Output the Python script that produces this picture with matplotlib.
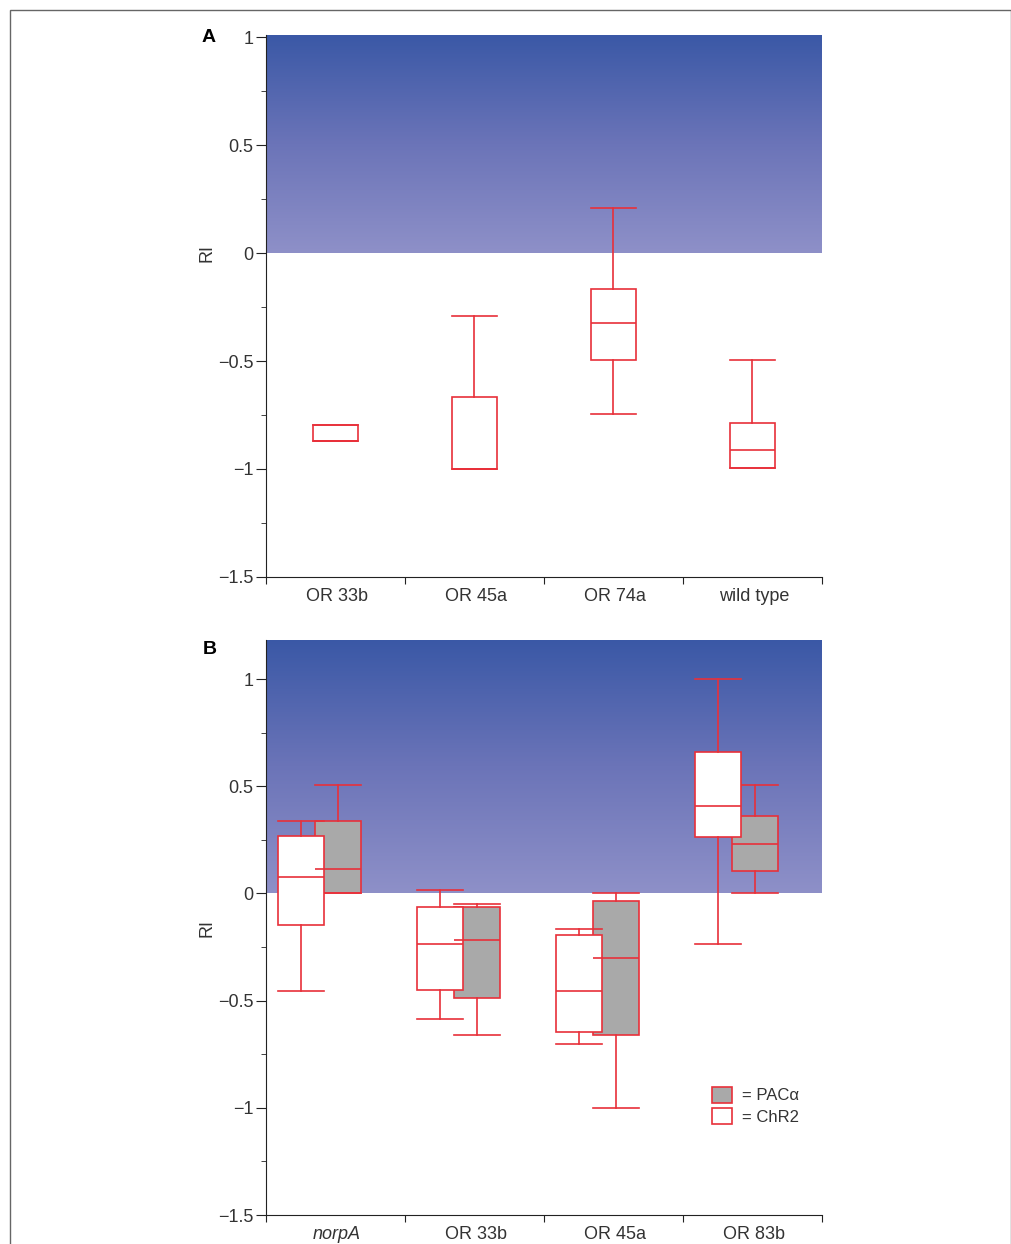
import numpy as np
import matplotlib.pyplot as plt
from matplotlib.patches import Patch, Rectangle
from matplotlib.ticker import MultipleLocator

plt.rcParams['font.family'] = ['Liberation Sans', 'DejaVu Sans']

# panel A: one box per genotype (q1, median, q3, whisker low, whisker high)
cats_a = ['OR 33b', 'OR 45a', 'OR 74a', 'wild type']
a_whislo = [-0.87, -1.0, -0.745, -0.995]
a_q1 = [-0.87, -1.0, -0.495, -0.995]
a_med = [-0.87, -1.0, -0.324, -0.912]
a_q3 = [-0.796, -0.667, -0.167, -0.787]
a_whishi = [-0.796, -0.292, 0.208, -0.495]

# panel B: ChR2 (white) and PACalpha (grey) per genotype
cats_b = ['norpA', 'OR 33b', 'OR 45a', 'OR 83b']
chr2_whislo = [-0.457, -0.588, -0.700, -0.238]
chr2_q1 = [-0.149, -0.452, -0.644, 0.261]
chr2_med = [0.079, -0.238, -0.457, 0.410]
chr2_q3 = [0.266, -0.061, -0.196, 0.658]
chr2_whishi = [0.340, 0.014, -0.168, 1.0]

pac_whislo = [0.0, -0.658, -1.0, 0.0]
pac_q1 = [0.0, -0.490, -0.662, 0.107]
pac_med = [0.112, -0.215, -0.303, 0.229]
pac_q3 = [0.336, -0.061, -0.033, 0.359]
pac_whishi = [0.504, -0.047, 0.0, 0.504]

RED = '#e8303a'
GREY = '#a9a9a9'
TXT = '#333333'
FS = 13


def stats(lo, q1, med, q3, hi):
    return [dict(whislo=a, q1=b, med=c, q3=d, whishi=e, fliers=[])
            for a, b, c, d, e in zip(lo, q1, med, q3, hi)]


def draw_boxes(ax, st, pos, face):
    w = 0.33
    ax.bxp(st, positions=pos, widths=w, capwidths=w, patch_artist=True,
           showfliers=False, manage_ticks=False,
           boxprops=dict(facecolor=face, edgecolor=RED, linewidth=1.2),
           medianprops=dict(color=RED, linewidth=1.2),
           whiskerprops=dict(color=RED, linewidth=1.2),
           capprops=dict(color=RED, linewidth=1.2),
           zorder=3)


def style_axis(ax, cats, ytop, label_y, italic_first=False):
    grad = np.linspace(0, 1, 256).reshape(-1, 1)
    cmap = plt.matplotlib.colors.LinearSegmentedColormap.from_list(
        'bg', ['#8e90c8', '#6b74b8', '#3a58a6'])
    ax.imshow(grad, extent=(0, 4, 0, ytop), origin='lower', aspect='auto',
              cmap=cmap, zorder=0)
    ax.set_xlim(0, 4)
    ax.set_ylim(-1.5, ytop)
    for s in ['top', 'right']:
        ax.spines[s].set_visible(False)
    ax.spines['left'].set_color('#222222')
    ax.spines['bottom'].set_color('#222222')
    ax.set_xticks(range(5))
    ax.set_xticklabels([])
    ax.set_xticks(np.arange(4) + 0.51, minor=True)
    ax.set_xticklabels(cats, minor=True, fontsize=FS, color=TXT)
    ax.tick_params(axis='x', which='major', direction='out', length=5, color='#222222')
    ax.tick_params(axis='x', which='minor', length=0, pad=8)
    ax.yaxis.set_major_locator(MultipleLocator(0.5))
    ax.yaxis.set_minor_locator(MultipleLocator(0.25))
    ax.set_yticks([-1.5, -1, -0.5, 0, 0.5, 1])
    ax.set_yticklabels(['\u22121.5', '\u22121', '\u22120.5', '0', '0.5', '1'],
                       fontsize=FS, color=TXT)
    ax.tick_params(axis='y', which='major', length=7, pad=2, color='#222222')
    ax.tick_params(axis='y', which='minor', length=3.5, color='#222222')
    ax.set_ylabel('RI', fontsize=FS, color=TXT)
    ax.yaxis.set_label_coords(-0.106, label_y)
    ax.yaxis.label.set_va('center')
    if italic_first:
        ax.get_xticklabels(minor=True)[0].set_style('italic')


fig = plt.figure(figsize=(10.12, 12.44), dpi=100)
fig.patches.append(Rectangle((10 / 1012, -0.05), 1001 / 1012, 1.05 - 10 / 1244,
                             transform=fig.transFigure, fill=False,
                             edgecolor='#666666', linewidth=1))

ax = fig.add_axes([0.2628, 0.5362, 0.5494, 0.4357])
style_axis(ax, cats_a, 1.01, 0.598)
draw_boxes(ax, stats(a_whislo, a_q1, a_med, a_q3, a_whishi), np.arange(4) + 0.5, 'white')
fig.text(0.199, 0.970, 'A', fontsize=14, fontweight='bold', va='center')

ax = fig.add_axes([0.2628, 0.0233, 0.5494, 0.4622])
style_axis(ax, cats_b, 1.182, 0.5, italic_first=True)
draw_boxes(ax, stats(pac_whislo, pac_q1, pac_med, pac_q3, pac_whishi),
           np.arange(4) + 0.52, GREY)
draw_boxes(ax, stats(chr2_whislo, chr2_q1, chr2_med, chr2_q3, chr2_whishi),
           np.arange(4) + 0.25, 'white')
fig.text(0.200, 0.478, 'B', fontsize=14, fontweight='bold', va='center')

handles = [Patch(facecolor=GREY, edgecolor=RED, linewidth=1.2),
           Patch(facecolor='white', edgecolor=RED, linewidth=1.2)]
leg = ax.legend(handles, ['= PAC\u03b1', '= ChR2'], loc='upper left',
                bbox_to_anchor=(0.79, 0.235), frameon=False, fontsize=12,
                handlelength=1.2, handleheight=1.1, handletextpad=0.6,
                labelspacing=0.3, borderaxespad=0)
for t in leg.get_texts():
    t.set_color(TXT)

fig.savefig('out.png', dpi=100)
